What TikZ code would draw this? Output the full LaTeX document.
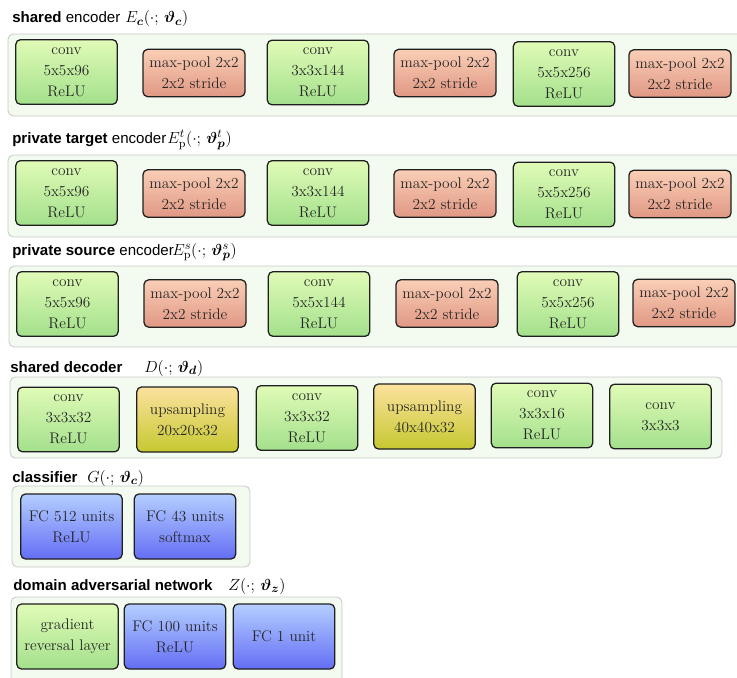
\documentclass[tikz,border=0pt]{standalone}
\usepackage{amsmath,bm}
\usepackage{fontspec}
\newfontfamily\hv{Liberation Sans}
\definecolor{gTop}{RGB}{224,251,182}
\definecolor{gBot}{RGB}{163,224,140}
\definecolor{sTop}{RGB}{250,206,182}
\definecolor{sBot}{RGB}{224,152,132}
\definecolor{yTop}{RGB}{252,226,158}
\definecolor{yBot}{RGB}{198,200,48}
\definecolor{bTop}{RGB}{180,206,255}
\definecolor{bBot}{RGB}{100,110,245}
\definecolor{panelbg}{RGB}{243,250,240}
\definecolor{panelln}{RGB}{200,200,200}
\tikzset{
 blk/.style={draw=black!88, line width=0.95pt, rounded corners=3.5pt, align=center, inner sep=1pt,
   font=\fontsize{11.5}{15.75}\selectfont, text=black!85},
 convbox/.style={blk, top color=gTop, bottom color=gBot, minimum width=76pt, minimum height=48.5pt},
 poolbox/.style={blk, top color=sTop, bottom color=sBot, minimum width=76.5pt, minimum height=35.5pt},
 upbox/.style={blk, top color=yTop, bottom color=yBot, minimum width=76pt, minimum height=48.75pt},
 fcbox/.style={blk, top color=bTop, bottom color=bBot, minimum width=76pt, minimum height=48.75pt},
 panel/.style={draw=panelln, fill=panelbg, rounded corners=4pt, line width=0.6pt},
 ttl/.style={anchor=base west, inner sep=0pt, font=\hv\fontsize{11.3}{13}\selectfont},
 mth/.style={anchor=base west, inner sep=0pt, font=\fontsize{12.5}{14}\selectfont}
}
\begin{document}
\begin{tikzpicture}[x=0.75pt,y=-0.75pt]
\useasboundingbox (0,0) rectangle (737,677);
\clip (0,0) rectangle (737,677);
% panels
\draw[panel] (8,34) rectangle (760,116);
\draw[panel] (8,155) rectangle (760,237);
\draw[panel] (9,266) rectangle (760,347);
\draw[panel] (10,377) rectangle (722,458);
\draw[panel] (12,486) rectangle (250,567);
\draw[panel] (11,597) rectangle (342,700);
% titles
\node[ttl] (t1) at (12,23) {\textbf{shared} encoder};
\node[mth] (m1) at (125,23) {$E_{\bm c}(\cdot;\,\bm{\vartheta}_{\bm c})$};
\node[ttl] (t2) at (12,143.5) {\textbf{private target} encoder};
\node[mth] (m2) at (167,143.5) {$E^{t}_{\mathrm{p}}(\cdot;\,\bm{\vartheta}^{t}_{\bm p})$};
\node[ttl] (t3) at (12,255) {\textbf{private source} encoder};
\node[mth] (m3) at (172,255) {$E^{s}_{\mathrm{p}}(\cdot;\,\bm{\vartheta}^{s}_{\bm p})$};
\node[ttl] (t4) at (10,372) {\textbf{shared decoder}};
\node[mth] (m4) at (144,372) {$D(\cdot;\,\bm{\vartheta}_{\bm d})$};
\node[ttl] (t5) at (12,482.5) {\textbf{classifier}};
\node[mth] (m5) at (87,482.5) {$G(\cdot;\,\bm{\vartheta}_{\bm c})$};
\node[ttl] (t6) at (13,590.5) {\textbf{domain adversarial network}};
\node[mth] (m6) at (228,590.5) {$Z(\cdot;\,\bm{\vartheta}_{\bm z})$};
% row 1
\node[convbox] (c11) at (66.5,72) {conv\\5x5x96\\ReLU};
\node[poolbox] (p11) at (194,73) {max-pool 2x2\\2x2 stride};
\node[convbox] (c12) at (318,72.5) {conv\\3x3x144\\ReLU};
\node[poolbox] (p12) at (445,73) {max-pool 2x2\\2x2 stride};
\node[convbox] (c13) at (564,74) {conv\\5x5x256\\ReLU};
\node[poolbox] (p13) at (680,73.5) {max-pool 2x2\\2x2 stride};
% row 2
\node[convbox] (c21) at (66.5,193) {conv\\5x5x96\\ReLU};
\node[poolbox] (p21) at (194,193.5) {max-pool 2x2\\2x2 stride};
\node[convbox] (c22) at (318,193) {conv\\3x3x144\\ReLU};
\node[poolbox] (p22) at (445,193.5) {max-pool 2x2\\2x2 stride};
\node[convbox] (c23) at (564,194.5) {conv\\5x5x256\\ReLU};
\node[poolbox] (p23) at (680,194) {max-pool 2x2\\2x2 stride};
% row 3
\node[convbox] (c31) at (67.5,304) {conv\\5x5x96\\ReLU};
\node[poolbox] (p31) at (195,303.5) {max-pool 2x2\\2x2 stride};
\node[convbox] (c32) at (319,304) {conv\\5x5x144\\ReLU};
\node[poolbox] (p32) at (447,303.5) {max-pool 2x2\\2x2 stride};
\node[convbox] (c33) at (568,304) {conv\\5x5x256\\ReLU};
\node[poolbox] (p33) at (684,303) {max-pool 2x2\\2x2 stride};
% row 4
\node[convbox] (d1) at (68.5,419.5) {conv\\3x3x32\\ReLU};
\node[upbox] (d2) at (187.5,419.5) {upsampling\\20x20x32};
\node[convbox] (d3) at (307,418) {conv\\3x3x32\\ReLU};
\node[upbox] (d4) at (424.5,416.5) {upsampling\\40x40x32};
\node[convbox] (d5) at (542,415.5) {conv\\3x3x16\\ReLU};
\node[convbox] (d6) at (660.5,416.5) {conv\\3x3x3};
% row 5
\node[fcbox] (f1) at (71.5,526.5) {FC 512 units\\ReLU};
\node[fcbox] (f2) at (185,526.5) {FC 43 units\\softmax};
% row 6
\node[convbox, minimum height=48.75pt] (g1) at (67.5,636.5) {gradient\\reversal layer};
\node[fcbox] (g2) at (175,636.5) {FC 100 units\\ReLU};
\node[fcbox] (g3) at (284,636.5) {FC 1 unit};
\end{tikzpicture}
\end{document}
